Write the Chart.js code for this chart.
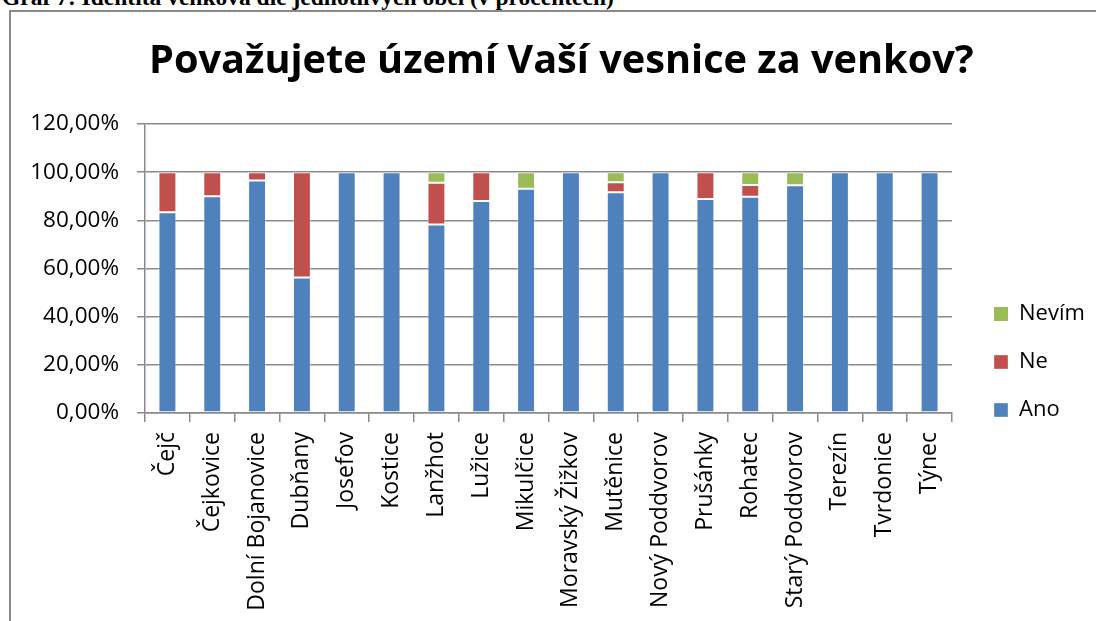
<!DOCTYPE html>
<html>
<head>
<meta charset="utf-8">
<script src="https://cdn.jsdelivr.net/npm/chart.js@4/dist/chart.umd.min.js"></script>
<style>
  html, body { margin: 0; padding: 0; background: #fff; overflow: hidden; width: 1096px; height: 621px; }
  #caption { position: absolute; left: 2px; top: -14px; font: bold 23.5px/23.5px "Liberation Serif", serif; color: #000; white-space: nowrap; }
  #frame { position: absolute; left: 9px; top: 10px; width: 2000px; height: 2000px; border-top: 2px solid #8a8a8a; border-left: 2px solid #8a8a8a; }
  #wrap { position: absolute; left: 0; top: 0; width: 1096px; height: 740px; }
</style>
</head>
<body>
<div id="caption">Graf 7: Identita venkova dle jednotlivých obcí (v procentech)</div>
<div id="frame"></div>
<div id="wrap"><canvas id="c" width="1096" height="740"></canvas></div>
<script>
const titleText = 'Považujete území Vaší vesnice za venkov?';
const categories = ['Čejč','Čejkovice','Dolní Bojanovice','Dubňany','Josefov','Kostice','Lanžhot','Lužice','Mikulčice','Moravský Žižkov','Mutěnice','Nový Poddvorov','Prušánky','Rohatec','Starý Poddvorov','Terezín','Tvrdonice','Týnec'];
const seriesNames = ['Ano','Ne','Nevím'];
const ano   = [83.33, 90.00, 96.55, 56.25, 100, 100, 78.26, 88.00, 93.10, 100, 91.67, 100, 88.89, 89.80, 94.59, 100, 100, 100];
const ne    = [16.67, 10.00,  3.45, 43.75,   0,   0, 17.39, 12.00,  0.00,   0,  4.17,   0, 11.11,  4.90,  0.00,   0,   0,   0];
const nevim = [ 0.00,  0.00,  0.00,  0.00,   0,   0,  4.35,  0.00,  6.90,   0,  4.16,   0,  0.00,  5.30,  5.41,   0,   0,   0];
const yTickLabels = ['0,00%','20,00%','40,00%','60,00%','80,00%','100,00%','120,00%'];

const FONT = '"Open Sans", sans-serif';
const mctx = document.createElement('canvas').getContext('2d');
mctx.font = 'bold 100px "Open Sans"';
const titleSize = 100 * 825 / mctx.measureText(titleText).width;
const legendFont = 22, legendPad = 26, legendBox = 14;
mctx.font = legendFont + 'px "Open Sans"';
const maxLegendText = Math.max(...seriesNames.map(s => mctx.measureText(s).width));
const legendW = legendPad + legendBox + legendFont / 2 + maxLegendText + 10;
const padRight = Math.max(0, 1096 - 968 - legendW);
const titlePadTop = 75 - 0.33 * titleSize - 0.6 * titleSize;
const titlePadBottom = 124 - titlePadTop - 1.2 * titleSize;

const grid = '#8a8a8a';
const edge = ctx => (ctx.raw ? 1 : 0);

new Chart(document.getElementById('c'), {
  type: 'bar',
  data: {
    labels: categories,
    datasets: [
      { label: seriesNames[0], data: ano,   backgroundColor: '#4F81BD', borderColor: 'rgba(255,255,255,0.35)', borderWidth: edge, borderSkipped: false },
      { label: seriesNames[1], data: ne,    backgroundColor: '#C0504D', borderColor: 'rgba(255,255,255,0.35)', borderWidth: edge, borderSkipped: false },
      { label: seriesNames[2], data: nevim, backgroundColor: '#9BBB59', borderColor: 'rgba(255,255,255,0.35)', borderWidth: edge, borderSkipped: false }
    ]
  },
  options: {
    responsive: false,
    animation: false,
    devicePixelRatio: 1,
    layout: { padding: { left: 28, top: 0, right: padRight, bottom: 16 } },
    datasets: { bar: { categoryPercentage: 1.0, barPercentage: 0.4 } },
    plugins: {
      tooltip: { enabled: false },
      title: {
        display: true, text: titleText, color: '#000',
        font: { family: FONT, size: titleSize, weight: 'bold' },
        padding: { top: titlePadTop, bottom: titlePadBottom }
      },
      legend: {
        position: 'right', reverse: true,
        labels: {
          color: '#000', boxWidth: legendBox, boxHeight: legendBox, padding: legendPad,
          font: { family: FONT, size: legendFont }
        }
      }
    },
    scales: {
      x: {
        stacked: true,
        offset: true,
        grid: { display: true, drawOnChartArea: false, drawTicks: true, tickLength: 9, color: grid, lineWidth: 1.5, offset: true },
        border: { display: true, color: grid, width: 1.5 },
        ticks: { autoSkip: false, maxRotation: 90, minRotation: 90, padding: 10, color: '#000', font: { family: FONT, size: 23 } },
        afterFit: s => { s.height = 311; }
      },
      y: {
        stacked: true, min: 0, max: 120,
        grid: { color: grid, lineWidth: 1.5, tickLength: 8, drawTicks: true },
        border: { display: true, color: grid, width: 1.5 },
        ticks: { stepSize: 20, padding: 18, color: '#000', font: { family: FONT, size: 22.5 },
                 callback: (v, i) => yTickLabels[i] },
        afterFit: s => { s.width = 117; }
      },
      gap: {
        type: 'linear', position: 'right', display: true,
        grid: { display: false }, border: { display: false }, ticks: { display: false },
        afterFit: s => { s.width = 16; }
      }
    }
  }
});
</script>
</body>
</html>
